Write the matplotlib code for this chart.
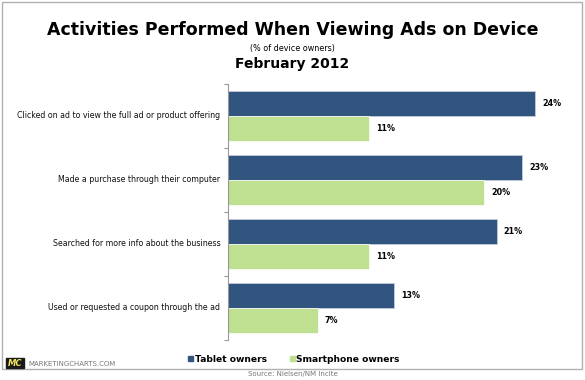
import numpy as np
import matplotlib
matplotlib.use("Agg")
import matplotlib.pyplot as plt
from matplotlib.patches import Rectangle

categories = [
    "Clicked on ad to view the full ad or product offering",
    "Made a purchase through their computer",
    "Searched for more info about the business",
    "Used or requested a coupon through the ad",
]
tablet = [24, 23, 21, 13]
smartphone = [11, 20, 11, 7]
series_names = ["Tablet owners", "Smartphone owners"]

BLUE = "#32557f"
GREEN = "#bfdf91"

W, H = 585, 380
fig = plt.figure(figsize=(W / 100, H / 100), dpi=100)
fig.patch.set_facecolor("white")


def fx(px):
    return px / W


def fy(py):
    return 1 - py / H


# outer frame
fig.add_artist(Rectangle((fx(2), fy(369)), 580 / W, 367 / H, transform=fig.transFigure,
                         fill=False, edgecolor="#b0b0b0", lw=1.0))

ax = fig.add_axes([fx(228), fy(340), 352 / W, 256 / H])
n = len(categories)
y = np.arange(n)
bh = 25 / 64
ax.barh(y - bh / 2, tablet, height=bh, color=BLUE, edgecolor="#c9d3e0", lw=0.5)
ax.barh(y + bh / 2, smartphone, height=bh, color=GREEN, edgecolor="white", lw=0.5)
ax.set_ylim(n - 0.5, -0.5)
ax.set_xlim(0, 27.5)

for i in range(n):
    ax.text(tablet[i] + 0.55, y[i] - bh / 2, f"{tablet[i]}%", va="center", ha="left",
            fontsize=5.8, fontweight="bold")
    ax.text(smartphone[i] + 0.55, y[i] + bh / 2, f"{smartphone[i]}%", va="center", ha="left",
            fontsize=5.8, fontweight="bold")
    ax.text(-0.6, y[i], categories[i], va="center", ha="right", fontsize=5.7, color="#111111")

for s in ["top", "right", "bottom"]:
    ax.spines[s].set_visible(False)
ax.spines["left"].set_color("#999999")
ax.spines["left"].set_linewidth(0.8)
ax.set_xticks([])
ax.set_yticks(np.arange(n + 1) - 0.5)
ax.set_yticklabels([])
ax.tick_params(axis="y", length=3, color="#999999", width=0.8)

fig.text(0.5, fy(30), "Activities Performed When Viewing Ads on Device", ha="center", va="center",
         fontsize=12.5, fontweight="bold")
fig.text(0.5, fy(48), "(% of device owners)", ha="center", va="center", fontsize=5.8)
fig.text(0.5, fy(64), "February 2012", ha="center", va="center", fontsize=10, fontweight="bold")

# legend
fig.add_artist(Rectangle((fx(188), fy(361)), 5 / W, 5 / H, transform=fig.transFigure, color=BLUE))
fig.text(fx(195), fy(359), series_names[0], ha="left", va="center", fontsize=6.6, fontweight="bold")
fig.add_artist(Rectangle((fx(290), fy(361)), 5 / W, 5 / H, transform=fig.transFigure, color=GREEN))
fig.text(fx(296), fy(359), series_names[1], ha="left", va="center", fontsize=6.6, fontweight="bold")

# logo
fig.add_artist(Rectangle((fx(6), fy(368)), 18 / W, 10 / H, transform=fig.transFigure, color="#1a1a1a"))
fig.text(fx(15), fy(363), "MC", ha="center", va="center", fontsize=6, fontweight="bold",
         style="italic", color="#f3e55a")
fig.text(fx(28), fy(363.5), "MARKETINGCHARTS.COM", ha="left", va="center", fontsize=5, color="#777777")

fig.text(0.5, fy(374), "Source: Nielsen/NM Incite", ha="center", va="center", fontsize=5, color="#777777")

fig.savefig("out.png", dpi=100)
